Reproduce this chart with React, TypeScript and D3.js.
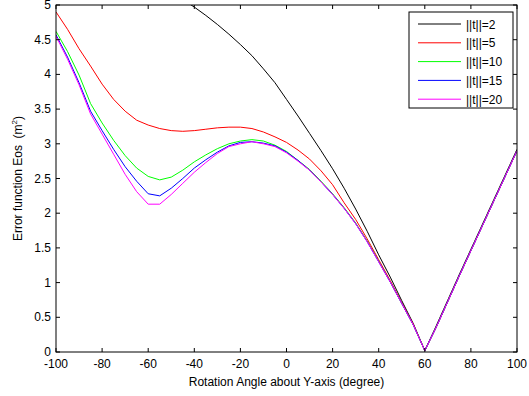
import React from 'react'
import * as d3 from 'd3'

// rotation angle (degree)
const angles = [
  -100, -95, -90, -85, -80, -75, -70, -65, -60, -55, -50, -45, -40, -35, -30, -25, -20, -15, -10, -5,
  0, 5, 10, 15, 20, 25, 30, 35, 40, 45, 50, 55, 60, 65, 70, 75, 80, 85, 90, 95, 100,
]

// error function per translation norm
const t2 = [
  5.9, 5.82, 5.75, 5.68, 5.6, 5.53, 5.46, 5.39, 5.32, 5.24, 5.17, 5.08, 4.97, 4.85, 4.72, 4.58, 4.43,
  4.27, 4.08, 3.88, 3.64, 3.4, 3.15, 2.9, 2.64, 2.36, 2.06, 1.74, 1.4, 1.08, 0.74, 0.41, 0.02, 0.38,
  0.75, 1.12, 1.48, 1.84, 2.2, 2.56, 2.92,
]
const t5 = [
  4.9, 4.65, 4.37, 4.12, 3.86, 3.64, 3.47, 3.34, 3.27, 3.22, 3.19, 3.18, 3.19, 3.21, 3.23, 3.24, 3.24,
  3.22, 3.17, 3.1, 3.02, 2.91, 2.78, 2.61, 2.41, 2.15, 1.91, 1.63, 1.33, 1.03, 0.71, 0.4, 0.02, 0.36,
  0.73, 1.1, 1.46, 1.82, 2.18, 2.54, 2.9,
]
const t10 = [
  4.62, 4.33, 3.99, 3.58, 3.3, 3.05, 2.83, 2.65, 2.53, 2.48, 2.52, 2.62, 2.74, 2.84, 2.93, 3.0, 3.04,
  3.06, 3.04, 2.98, 2.89, 2.76, 2.63, 2.46, 2.28, 2.08, 1.86, 1.6, 1.31, 1.01, 0.7, 0.39, 0.02, 0.36,
  0.73, 1.1, 1.46, 1.82, 2.18, 2.54, 2.9,
]
const t15 = [
  4.57, 4.25, 3.88, 3.47, 3.19, 2.92, 2.67, 2.46, 2.28, 2.25, 2.36, 2.5, 2.65, 2.77, 2.88, 2.97, 3.02,
  3.03, 3.01, 2.97, 2.88, 2.76, 2.62, 2.45, 2.27, 2.07, 1.85, 1.59, 1.3, 1.01, 0.7, 0.39, 0.02, 0.36,
  0.73, 1.1, 1.46, 1.82, 2.18, 2.54, 2.9,
]
const t20 = [
  4.55, 4.22, 3.85, 3.43, 3.14, 2.85, 2.56, 2.31, 2.13, 2.13, 2.27, 2.43, 2.59, 2.73, 2.86, 2.96, 3.0,
  3.03, 3.0, 2.96, 2.87, 2.75, 2.62, 2.45, 2.27, 2.07, 1.85, 1.59, 1.3, 1.01, 0.7, 0.39, 0.02, 0.36,
  0.73, 1.1, 1.46, 1.82, 2.18, 2.54, 2.9,
]

const seriesNames = ['||t||=2', '||t||=5', '||t||=10', '||t||=15', '||t||=20']
const seriesValues = [t2, t5, t10, t15, t20]
const seriesColors = ['#000000', '#ff0000', '#00ff00', '#0000ff', '#ff00ff']

const xTicks = [-100, -80, -60, -40, -20, 0, 20, 40, 60, 80, 100]
const yTicks = [0, 0.5, 1, 1.5, 2, 2.5, 3, 3.5, 4, 4.5, 5]

const W = 529
const H = 396
const margin = { top: 5, right: 12, bottom: 44, left: 56 }
const font = 'Arial, "Liberation Sans", sans-serif'

export default function App() {
  const innerW = W - margin.left - margin.right
  const innerH = H - margin.top - margin.bottom
  const x = d3.scaleLinear().domain([-100, 100]).range([0, innerW])
  const y = d3.scaleLinear().domain([0, 5]).range([innerH, 0])
  const line = d3
    .line<number>()
    .x((_d, i) => x(angles[i]))
    .y(d => y(d))

  const tick = 4
  const legend = { x: 409 - margin.left, y: 12 - margin.top, w: 104, h: 96 }

  return (
    <svg
      width={W}
      height={H}
      style={{ position: 'absolute', left: 0, top: 0, background: '#fff' }}
      fontFamily={font}
    >
      <defs>
        <clipPath id="plot-clip">
          <rect x={0} y={0} width={innerW} height={innerH} />
        </clipPath>
      </defs>
      <g transform={`translate(${margin.left},${margin.top})`}>
        <g clipPath="url(#plot-clip)">
          {seriesValues.map((vals, i) => (
            <path key={i} d={line(vals) || ''} fill="none" stroke={seriesColors[i]} strokeWidth={1} />
          ))}
        </g>

        {/* box */}
        <rect x={0} y={0} width={innerW} height={innerH} fill="none" stroke="#000" strokeWidth={1} />

        {/* x ticks */}
        {xTicks.map(t => (
          <g key={t}>
            <line x1={x(t)} x2={x(t)} y1={innerH} y2={innerH - tick} stroke="#000" />
            <line x1={x(t)} x2={x(t)} y1={0} y2={tick} stroke="#000" />
            <text x={x(t)} y={innerH + 16} textAnchor="middle" fontSize={12} fill="#000">
              {t}
            </text>
          </g>
        ))}

        {/* y ticks */}
        {yTicks.map(t => (
          <g key={t}>
            <line x1={0} x2={tick} y1={y(t)} y2={y(t)} stroke="#000" />
            <line x1={innerW} x2={innerW - tick} y1={y(t)} y2={y(t)} stroke="#000" />
            <text x={-5} y={y(t) + 4} textAnchor="end" fontSize={12} fill="#000">
              {t}
            </text>
          </g>
        ))}

        <text x={innerW / 2} y={innerH + 34} textAnchor="middle" fontSize={12} fill="#000">
          Rotation Angle about Y-axis (degree)
        </text>
        <text
          transform={`translate(${-34},${innerH / 2}) rotate(-90)`}
          textAnchor="middle"
          fontSize={12}
          fill="#000"
        >
          Error function Eos{'\u00a0\u00a0'}(m<tspan dy={-5} fontSize={8}>2</tspan>
          <tspan dy={5}>)</tspan>
        </text>

        {/* legend */}
        <g transform={`translate(${legend.x},${legend.y})`}>
          <rect width={legend.w} height={legend.h} fill="#fff" stroke="#000" strokeWidth={1} />
          {seriesNames.map((name, i) => (
            <g key={name} transform={`translate(0,${12 + i * 18.8})`}>
              <line x1={9} x2={52} y1={0} y2={0} stroke={seriesColors[i]} strokeWidth={1} />
              <text x={57} y={4.5} fontSize={12} fill="#000">
                {name}
              </text>
            </g>
          ))}
        </g>
      </g>
    </svg>
  )
}
